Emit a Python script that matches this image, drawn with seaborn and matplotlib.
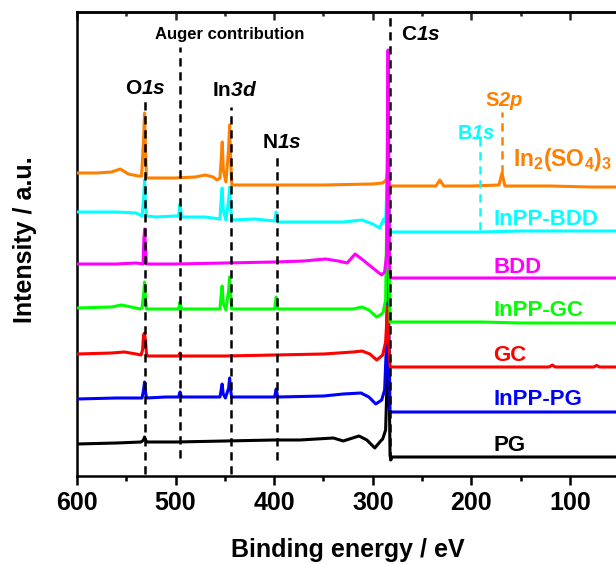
import matplotlib
matplotlib.use("Agg")
import matplotlib.pyplot as plt
from matplotlib.ticker import MultipleLocator
import pandas as pd
import seaborn as sns

# ---------------- survey spectra (binding energy in eV, intensity in a.u., stacked) ----------------
pg_be = [600, 560, 535, 532.5, 531.5, 530.5, 529, 500, 450, 400, 374, 340, 330, 314, 306, 298,
         292, 290, 287, 285.5, 284.7, 283.5, 282.5, 281.8, 280.5, 240, 191, 150, 100, 53]
pg_int = [32, 33, 34, 36, 39, 36, 34, 34, 35, 36, 36, 38, 35, 40, 36, 28,
          35, 37, 46, 96, 176, 96, 21, 16, 19, 19, 19, 19, 19, 19]

inpp_pg_be = [600, 560, 540, 534, 532.5, 531.5, 530.5, 529.5, 510, 497, 495.5, 494, 470, 455,
              453.8, 452.8, 451.7, 449.5, 446.2, 445.2, 444.2, 443.2, 420, 399.5, 398, 396.5,
              350, 330, 312, 304, 297, 291, 288, 286, 284.6, 283.5, 282.5, 240, 191, 150, 100, 53]
inpp_pg_int = [77, 78, 78, 78, 86, 94, 84, 78, 79, 79, 84, 79, 79, 79,
               86, 92, 82, 78, 88, 98, 86, 79, 79, 79, 87, 79,
               80, 82, 83, 79, 72, 76, 86, 136, 226, 136, 64, 64, 64, 64, 64, 64]

gc_be = [600, 565, 552, 540, 535, 533.5, 532.5, 531.6, 530.6, 529.5, 528.5, 500, 497, 495.5,
         494, 450, 400, 350, 320, 311, 303, 296, 290, 287, 285.8, 285.2, 284.2, 283.2, 282.3,
         240, 150, 121, 118, 115, 90, 76, 73, 70, 53]
gc_int = [122, 123, 124, 122, 121, 126, 141, 143, 136, 122, 120, 120, 120, 123,
          120, 120, 121, 122, 124, 125, 122, 116, 121, 134, 156, 170, 146, 121, 109,
          109, 109, 109, 111, 109, 109, 109, 110.5, 109, 109]

inpp_gc_be = [600, 565, 555, 545, 536, 534, 532.5, 531.5, 530.5, 529.5, 510, 497, 495.5, 494,
              470, 455, 453.8, 452.8, 451.7, 449, 446.2, 445.2, 444.2, 443.2, 420, 399.5, 398,
              396.5, 360, 320, 311, 304, 296, 291, 289.5, 287, 285.6, 284.6, 283.6, 282.5,
              240, 191, 150, 100, 53]
inpp_gc_int = [168, 169, 171, 169, 167, 168, 181, 194, 178, 167, 167, 167, 174, 167,
               167, 167, 181, 190, 173, 166, 186, 199, 183, 167, 167, 167, 179,
               167, 167, 167, 169, 166, 159, 162, 164, 176, 276, 336, 226, 154,
               154, 154, 153, 153, 153]

bdd_be = [600, 560, 540, 533, 532.2, 531.4, 530.6, 529.6, 500, 450, 400, 370, 348, 335, 326,
          318, 310, 300, 291, 288, 286, 285.1, 284.5, 283.8, 283, 282, 240, 191, 150, 100, 53]
bdd_int = [212, 212, 213, 212, 236, 247, 231, 212, 212, 213, 214, 215, 217, 215, 213,
           222, 216, 208, 201, 204, 221, 356, 426, 326, 211, 198, 198, 198, 198, 198, 198]

inpp_bdd_be = [600, 560, 540, 534, 532.5, 531.5, 530.5, 529.5, 520, 500, 497, 495.5, 494, 470,
               455, 453.8, 452.8, 451.7, 449, 446.2, 445.2, 444.2, 443.2, 420, 399.5, 398, 396.5,
               370, 330, 311, 300, 293, 289, 287, 285.6, 284.6, 283.6, 282.5, 240, 191, 150,
               100, 53]
inpp_bdd_int = [264, 264, 263, 260, 276, 296, 271, 260, 259, 260, 260, 272, 259, 259,
                257, 276, 288, 266, 256, 276, 289, 271, 256, 257, 255, 264, 254,
                254, 254, 256, 252, 248, 257, 254, 291, 326, 276, 244, 244, 244, 245,
                245, 245]

in2so43_be = [600, 580, 565, 556, 548, 538, 534.5, 532.5, 531.5, 530.5, 529.5, 520, 500, 480,
              470, 462, 458, 455, 453.8, 452.7, 451.6, 449, 446.3, 445.2, 444.2, 443, 420, 400,
              350, 300, 290, 286.5, 284.6, 283.3, 282, 260, 236, 232, 228, 200, 172, 169, 166,
              120, 80, 53]
in2so43_int = [303, 303, 304, 307, 302, 300, 300, 336, 363, 326, 298, 298, 298, 299,
               301, 299, 296, 298, 316, 334, 306, 294, 326, 351, 316, 291, 291, 291,
               291, 292, 293, 296, 306, 292, 290, 290, 290, 296, 290, 290, 291, 303, 290,
               290, 289, 289]

sample_names = ["PG", "InPP-PG", "GC", "InPP-GC", "In2(SO4)3", "InPP-BDD", "BDD"]
sample_colors = ["#000000", "#0000FF", "#FF0000", "#00FF00", "#FF7F00", "#00FFFF", "#FF00FF"]
sample_be = [pg_be, inpp_pg_be, gc_be, inpp_gc_be, in2so43_be, inpp_bdd_be, bdd_be]
sample_int = [pg_int, inpp_pg_int, gc_int, inpp_gc_int, in2so43_int, inpp_bdd_int, bdd_int]

# peak assignment markers: binding energy and vertical extent (a.u.)
marker_be = [531, 495.5, 444, 397, 283, 191, 169]
marker_top = [376, 429, 369, 319, 462, 339, 364]
marker_bottom = [2, 18, 2, 16, 16, 246, 303]
marker_colors = ["#000000", "#000000", "#000000", "#000000", "#000000", "#00FFFF", "#FF7F00"]

x_ticks = [600, 500, 400, 300, 200, 100]

# ---------------- style ----------------
sns.set_theme(style="ticks")
plt.rcParams["font.family"] = ["Liberation Sans", "DejaVu Sans"]
plt.rcParams["font.weight"] = "bold"
# math segments carry the bold-italic orbital notation; \mathsf gives upright bold subscripts
plt.rcParams["mathtext.fontset"] = "custom"
plt.rcParams["mathtext.rm"] = "Liberation Sans:italic:bold"
plt.rcParams["mathtext.it"] = "Liberation Sans:italic:bold"
plt.rcParams["mathtext.bf"] = "Liberation Sans:bold"
plt.rcParams["mathtext.sf"] = "Liberation Sans:bold"
plt.rcParams["mathtext.default"] = "rm"

W, H = 616, 564
fig = plt.figure(figsize=(W / 100, H / 100), dpi=100)
ax = fig.add_axes([77 / W, 88 / H, (W - 77) / W, (476 - 12) / H])

frames = []
for name, be, inten in zip(sample_names, sample_be, sample_int):
    frames.append(pd.DataFrame({"be": be, "intensity": inten, "sample": name}))
spectra = pd.concat(frames, ignore_index=True)

for i, (name, color) in enumerate(zip(sample_names, sample_colors)):
    sub = spectra[spectra["sample"] == name]
    sns.lineplot(data=sub, x="be", y="intensity", color=color, lw=2.2,
                 estimator=None, sort=False, ax=ax, zorder=2 + i)

ax.vlines(marker_be, marker_bottom, marker_top, colors=marker_colors,
          linestyles=(0, (3.3, 2.3)), linewidth=1.8, zorder=20)

ax.set_xlim(600, 600 - (W - 77) / 0.986)
ax.set_ylim(0, 464)
ax.set_xticks(x_ticks)
ax.xaxis.set_minor_locator(MultipleLocator(50))
ax.set_yticks([])
ax.set_xlabel("")
ax.set_ylabel("")

for side in ["left", "bottom", "top"]:
    ax.spines[side].set_linewidth(1.8)
    ax.spines[side].set_color("black")
ax.spines["right"].set_visible(False)

ax.tick_params(axis="x", which="major", direction="out", length=6.5, width=1.8,
               labelsize=18, pad=4.5, colors="black", top=False)
ax.tick_params(axis="x", which="minor", direction="out", length=3.6, width=1.8,
               colors="black", top=False)
for lab in ax.get_xticklabels():
    lab.set_fontweight("bold")

top = ax.secondary_xaxis("top")
top.set_xticks(x_ticks)
top.xaxis.set_minor_locator(MultipleLocator(50))
top.tick_params(axis="x", which="major", direction="in", length=5.8, width=1.8, labelsize=0)
top.tick_params(axis="x", which="minor", direction="in", length=3.0, width=1.8)
top.set_xticklabels([])
top.spines["top"].set_linewidth(1.8)

# sample labels
label_x = 178
label_y = {"InPP-BDD": 251, "BDD": 203, "InPP-GC": 160, "GC": 115, "InPP-PG": 71, "PG": 25}
for name, color in zip(sample_names, sample_colors):
    if name in label_y:
        ax.text(label_x, label_y[name], name, color=color, fontsize=16, fontweight="bold",
                ha="left", va="baseline", zorder=30)
ax.text(157.8, 310, r"In$_\mathsf{2}$(SO$_\mathsf{4}$)$_\mathsf{3}$", color="#FF7F00",
        fontsize=16.5, ha="left", va="baseline", zorder=30)

# peak labels: element in upright bold, orbital in bold italic
ax.text(551.3, 382.5, r"O$1s$", fontsize=15, ha="left", va="baseline", color="black")
ax.text(463, 379.5, r"In$3d$", fontsize=15, ha="left", va="baseline", color="black")
ax.text(412.4, 327.5, r"N$1s$", fontsize=15, ha="left", va="baseline", color="black")
ax.text(271.4, 435.5, r"C$1s$", fontsize=15, ha="left", va="baseline", color="black")
ax.text(186.2, 370, r"S$2p$", fontsize=14.5, ha="left", va="baseline", color="#FF7F00")
ax.text(214.6, 337, r"B$1s$", fontsize=14.5, ha="left", va="baseline", color="#00FFFF")
ax.text(520.9, 437, "Auger contribution", fontsize=12, fontweight="bold",
        ha="left", va="baseline", color="black")

fig.text(348 / W, 1 - 550 / H, "Binding energy / eV", fontsize=18, fontweight="bold",
         ha="center", va="center", color="black")
fig.text(25 / W, 1 - 240 / H, "Intensity / a.u.", fontsize=18, fontweight="bold",
         rotation=90, ha="center", va="center", color="black")

fig.savefig("out.png", dpi=100, facecolor="white")
